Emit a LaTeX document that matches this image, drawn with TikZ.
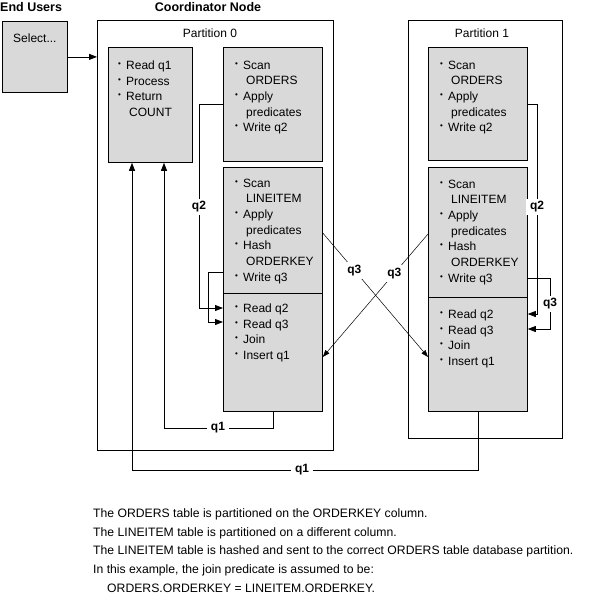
\documentclass[tikz,border=0pt]{standalone}
\usepackage{fontspec}
\setmainfont{Liberation Sans}
\usetikzlibrary{arrows.meta}
\definecolor{boxgray}{RGB}{217,217,217}
\newcommand{\bt}[1]{\makebox[8pt][l]{\raisebox{3pt}{\fontsize{8}{8}\selectfont •}}#1}
\newcommand{\ct}[1]{\hspace*{11pt}#1}
\begin{document}
\begin{tikzpicture}[x=1pt,y=-1pt,
  box/.style={draw,line width=0.8pt,fill=boxgray,inner sep=0pt,anchor=north west},
  frame/.style={draw,line width=0.8pt,inner sep=0pt,anchor=north west},
  txt/.style={inner sep=0pt,anchor=north west,align=left,font=\fontsize{12}{15.7}\selectfont},
  head/.style={inner sep=0pt,font=\bfseries\fontsize{12.5}{13}\selectfont},
  lbl/.style={fill=white,inner xsep=4pt,inner ysep=3pt,font=\bfseries\fontsize{12}{12}\selectfont},
  conn/.style={line width=0.8pt},
  arr/.style={conn,-{Triangle[length=8pt,width=6pt]}},
  darr/.style={line width=0.5pt,-{Triangle[length=7pt,width=5pt]}}]
\useasboundingbox (0,0) rectangle (593,595);

% headings
\node[head,anchor=west] (eu) at (0,7) {End Users};
\node[head] (cn) at (208,7) {Coordinator Node};

% select box
\node[box,minimum width=65pt,minimum height=71pt] (sel) at (2,21) {};
\node[txt] (selt) at (13,33.7) {Select...};

% partition frames
\node[frame,minimum width=236pt,minimum height=430pt] (p0) at (97,20) {};
\node[frame,minimum width=154pt,minimum height=418pt] (p1) at (408,20) {};
\node[inner sep=0pt,font=\fontsize{12}{14}\selectfont] (p0t) at (210,33) {Partition 0};
\node[inner sep=0pt,font=\fontsize{12}{14}\selectfont] (p1t) at (482,33) {Partition 1};

% inner boxes
\node[box,minimum width=84pt,minimum height=115pt] (readq1) at (108,47) {};
\node[box,minimum width=99pt,minimum height=114pt] (ordP0) at (223,47) {};
\node[box,minimum width=99pt,minimum height=126pt] (linP0) at (223,167) {};
\node[box,minimum width=99pt,minimum height=118pt] (joinP0) at (223,293) {};
\node[box,minimum width=99pt,minimum height=113pt] (ordP1) at (428,47) {};
\node[box,minimum width=99pt,minimum height=130pt] (linP1) at (428,167) {};
\node[box,minimum width=99pt,minimum height=114pt] (joinP1) at (428,297) {};

% box texts
\node[txt] (readq1t) at (118,60.5) {\bt{Read q1}\\\bt{Process}\\\bt{Return}\\\ct{COUNT}};
\node[txt] (ordP0t) at (235,60.5) {\bt{Scan}\\\ct{ORDERS}\\\bt{Apply}\\\ct{predicates}\\\bt{Write q2}};
\node[txt] (linP0t) at (235,178.5) {\bt{Scan}\\\ct{LINEITEM}\\\bt{Apply}\\\ct{predicates}\\\bt{Hash}\\\ct{ORDERKEY}\\\bt{Write q3}};
\node[txt] (joinP0t) at (235,303.5) {\bt{Read q2}\\\bt{Read q3}\\\bt{Join}\\\bt{Insert q1}};
\node[txt] (ordP1t) at (440,60.5) {\bt{Scan}\\\ct{ORDERS}\\\bt{Apply}\\\ct{predicates}\\\bt{Write q2}};
\node[txt] (linP1t) at (440,179.5) {\bt{Scan}\\\ct{LINEITEM}\\\bt{Apply}\\\ct{predicates}\\\bt{Hash}\\\ct{ORDERKEY}\\\bt{Write q3}};
\node[txt] (joinP1t) at (440,309.5) {\bt{Read q2}\\\bt{Read q3}\\\bt{Join}\\\bt{Insert q1}};

% connectors
\draw[arr] (sel.east) -- (sel.east -| p0.west);
\draw[arr] (ordP0.west) -| (199,308) -- (joinP0.west |- 0,308);
\draw[arr] (linP0.west |- 0,272) -| (208,322) -- (joinP0.west |- 0,322);
\draw[arr] (ordP1.east) -| (537,314) -- (joinP1.east |- 0,314);
\draw[arr] (linP1.east |- 0,278) -| (550,329) -- (joinP1.east |- 0,329);
\draw[arr] (joinP0.south) |- (164,428) -- (readq1.south -| 164,0);
\draw[arr] (joinP1.south) |- (132,470) -- (readq1.south -| 132,0);
\draw[darr] (linP0.east |- 0,233) -- (joinP1.west |- 0,357) node[lbl,pos=0.3] (q3a) {q3};
\draw[darr] (linP1.west |- 0,234) -- (joinP0.east |- 0,357) node[lbl,pos=0.32] (q3b) {q3};

% labels
\node[lbl] (q2a) at (199,207) {q2};
\node[lbl] (q2b) at (537,207) {q2};
\node[lbl] (q3c) at (550,304) {q3};
\node[lbl] (q1a) at (218,428) {q1};
\node[lbl] (q1b) at (302,470) {q1};

% notes
\node[inner sep=0pt,anchor=north west,align=left,font=\fontsize{12.2}{18.6}\selectfont] (notes) at (93,508.6)
{The ORDERS table is partitioned on the ORDERKEY column.\\
The LINEITEM table is partitioned on a different column.\\
The LINEITEM table is hashed and sent to the correct ORDERS table database partition.\\
In this example, the join predicate is assumed to be:\\
\hspace*{14pt}ORDERS.ORDERKEY = LINEITEM.ORDERKEY.};
\end{tikzpicture}
\end{document}
